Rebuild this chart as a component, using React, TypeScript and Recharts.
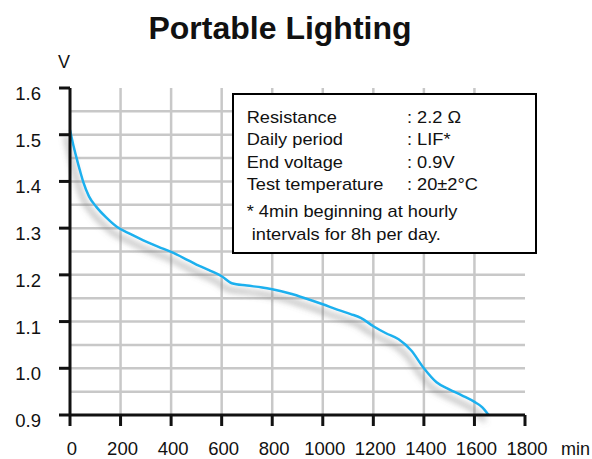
import { LineChart, Line, XAxis, YAxis, ReferenceLine } from "recharts";

// discharge curve (minutes, volts)
const minutes = [
  0, 13, 26, 40, 53, 75, 105, 145, 185, 240, 290, 350, 400, 450, 500, 550,
  600, 640, 700, 760, 800, 870, 930, 1000, 1060, 1110, 1150, 1200, 1250,
  1300, 1350, 1400, 1450, 1500, 1550, 1600, 1630, 1656,
];
const volts = [
  1.51, 1.478, 1.45, 1.422, 1.398, 1.368, 1.345, 1.322, 1.303, 1.287, 1.274,
  1.26, 1.249, 1.236, 1.222, 1.21, 1.197, 1.182, 1.177, 1.173, 1.169, 1.16,
  1.15, 1.137, 1.125, 1.116, 1.108, 1.09, 1.075, 1.062, 1.038, 1.0, 0.97,
  0.955, 0.942, 0.928, 0.917, 0.9,
];

const xTicks = [0, 200, 400, 600, 800, 1000, 1200, 1400, 1600, 1800];
const yTicks = [0.9, 1.0, 1.1, 1.2, 1.3, 1.4, 1.5, 1.6];
const gridX = [200, 400, 600, 800, 1000, 1200, 1400, 1600];
const gridY = [0.95, 1.0, 1.05, 1.1, 1.15, 1.2, 1.25, 1.3, 1.35, 1.4, 1.45, 1.5, 1.55];

const conditionLabels = ["Resistance", "Daily period", "End voltage", "Test temperature"];
const conditionValues = ["2.2 Ω", "LIF*", "0.9V", "20±2°C"];
const footnote = ["* 4min beginning at hourly", " intervals for 8h per day."];

const data = minutes.map((m, i) => ({ min: m, v: volts[i] }));

const font = '"Liberation Sans", Arial, sans-serif';
const ink = "#111";

const YTick = (props: any) => {
  const { x, y, payload } = props;
  return (
    <text x={x} y={y} dy={12} textAnchor="end" fontSize={18.5} fill={ink} fontFamily={font}>
      {payload.value.toFixed(1)}
    </text>
  );
};

const XTick = (props: any) => {
  const { x, y, payload } = props;
  return (
    <text x={x + 2} y={y} dy={29} textAnchor="middle" fontSize={18.5} fill={ink} fontFamily={font}>
      {payload.value}
    </text>
  );
};

const App = () => {
  return (
    <div style={{ position: "absolute", left: 0, top: 0, width: 592, height: 459, background: "#fff" }}>
      <LineChart
        width={592}
        height={459}
        data={data}
        margin={{ top: 88, right: 67, bottom: 0, left: 10 }}
      >
        <defs>
          <filter id="lineShadow" x="-20%" y="-20%" width="140%" height="150%">
            <feGaussianBlur in="SourceAlpha" stdDeviation="3" result="blur" />
            <feOffset in="blur" dx="-4" dy="6" result="off" />
            <feFlood floodColor="#777" floodOpacity="0.9" />
            <feComposite in2="off" operator="in" result="shadow" />
            <feMerge>
              <feMergeNode in="shadow" />
              <feMergeNode in="SourceGraphic" />
            </feMerge>
          </filter>
        </defs>
        {gridX.map((g) => (
          <ReferenceLine key={"gx" + g} x={g} stroke="#c8c8c8" strokeWidth={2.5} />
        ))}
        {gridY.map((g) => (
          <ReferenceLine key={"gy" + g} y={g} stroke="#c8c8c8" strokeWidth={2.5} />
        ))}
        <XAxis
          dataKey="min"
          type="number"
          domain={[0, 1800]}
          ticks={xTicks}
          height={44}
          tickSize={11}
          tickMargin={0}
          axisLine={{ stroke: ink, strokeWidth: 3 }}
          tickLine={{ stroke: ink, strokeWidth: 3 }}
          tick={<XTick />}
        />
        <YAxis
          type="number"
          domain={[0.9, 1.6]}
          ticks={yTicks}
          width={60}
          tickSize={11}
          tickMargin={18}
          axisLine={{ stroke: ink, strokeWidth: 3 }}
          tickLine={{ stroke: ink, strokeWidth: 3 }}
          tick={<YTick />}
        />
        <Line
          type="monotone"
          dataKey="v"
          stroke="#1cb0ee"
          strokeWidth={2.5}
          dot={false}
          filter="url(#lineShadow)"
          isAnimationActive={false}
        />
      </LineChart>
      <svg
        width={592}
        height={459}
        style={{ position: "absolute", left: 0, top: 0, pointerEvents: "none" }}
        fontFamily={font}
        fill={ink}
      >
        <text x={280} y={39} textAnchor="middle" fontSize={32} fontWeight="bold">
          Portable Lighting
        </text>
        <text x={64} y={68} textAnchor="middle" fontSize={18}>
          V
        </text>
        <text x={561} y={455} fontSize={18}>
          min
        </text>
        <rect x={233} y={94} width={303} height={159} fill="#fff" stroke="#000" strokeWidth={2} />
        <g transform="translate(246.7,0) scale(1.14,1)" fontSize={16}>
          {conditionLabels.map((label, i) => (
            <g key={label}>
              <text x={0} y={123 + i * 22.3}>{label}</text>
              <text x={140.6} y={123 + i * 22.3}>{": " + conditionValues[i]}</text>
            </g>
          ))}
          {footnote.map((line, i) => (
            <text key={i} x={0} y={216.7 + i * 23.3} style={{ whiteSpace: "pre" }}>
              {line}
            </text>
          ))}
        </g>
      </svg>
    </div>
  );
};

export default App;
